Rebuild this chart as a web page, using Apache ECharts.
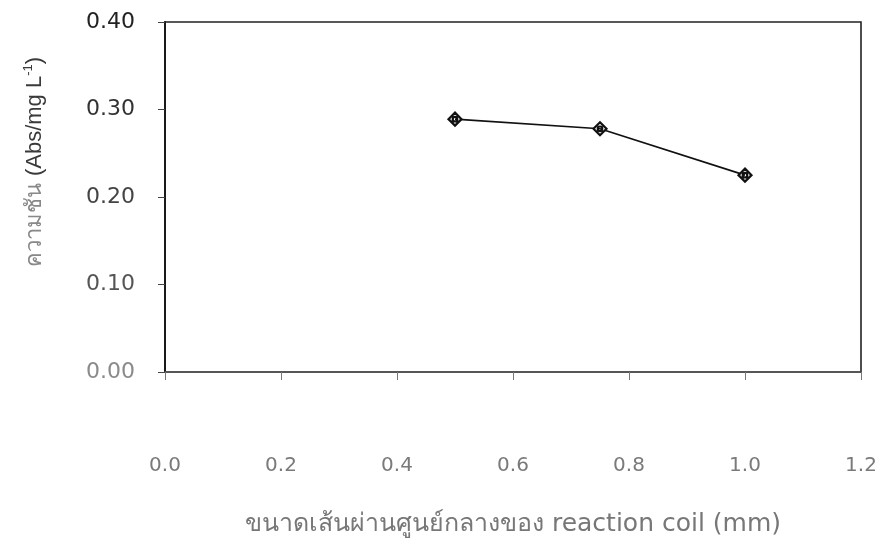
<!DOCTYPE html>
<html>
<head>
<meta charset="utf-8">
<script src="https://cdn.jsdelivr.net/npm/echarts@6/dist/echarts.min.js"></script>
<style>
  html, body { margin: 0; padding: 0; background: #fff; }
  #chart { width: 884px; height: 545px; }
</style>
</head>
<body>
<div id="chart"></div>
<script>
// Coil inner diameter (mm) and the measured calibration slope
const diameters = [0.5, 0.75, 1.0];
const slopes = [0.289, 0.278, 0.225];

const xTicks = [0.0, 0.2, 0.4, 0.6, 0.8, 1.0, 1.2];
const yTicks = [0.0, 0.1, 0.2, 0.3, 0.4];

const chart = echarts.init(document.getElementById('chart'));
const wideFont = '"DejaVu Sans", "Liberation Sans", sans-serif';
const narrowFont = '"Liberation Sans", Arial, sans-serif';

// tick label shades, darker toward the top of the axis
const yShade = { '0.00': '#8a8a8a', '0.10': '#555', '0.20': '#444', '0.30': '#333', '0.40': '#222' };

// diamond outline with a small ring in the middle
const markerPath = 'path://M0,-10 L10,0 L0,10 L-10,0 Z M0,-3.5 A3.5,3.5 0 1,0 0,3.5 A3.5,3.5 0 1,0 0,-3.5 Z';

chart.setOption({
  animation: false,
  backgroundColor: '#ffffff',
  grid: {
    left: 165, right: 23, top: 22, bottom: 173,
    outerBoundsMode: 'none',
    show: true, borderColor: '#222', borderWidth: 1.6, backgroundColor: 'transparent'
  },
  xAxis: {
    type: 'value',
    min: xTicks[0],
    max: xTicks[xTicks.length - 1],
    interval: 0.2,
    name: 'ขนาดเส้นผ่านศูนย์กลางของ reaction coil (mm)',
    nameLocation: 'middle',
    nameGap: 140,
    nameTextStyle: { fontFamily: wideFont, fontSize: 25, color: '#777' },
    axisLine: { show: true, lineStyle: { color: '#555', width: 1.5 } },
    axisTick: { show: true, inside: false, length: 8, lineStyle: { color: '#777', width: 1 } },
    splitLine: { show: false },
    axisLabel: {
      margin: 84,
      fontFamily: wideFont,
      fontSize: 20,
      color: '#7a7a7a',
      formatter: v => v.toFixed(1)
    }
  },
  yAxis: {
    type: 'value',
    min: yTicks[0],
    max: yTicks[yTicks.length - 1],
    interval: 0.1,
    axisLine: { show: true, lineStyle: { color: '#1a1a1a', width: 2 } },
    axisTick: { show: true, inside: false, length: 7, lineStyle: { color: '#444', width: 1 } },
    splitLine: { show: false },
    axisLabel: {
      margin: 30,
      fontFamily: wideFont,
      fontSize: 22,
      formatter: v => {
        const s = v.toFixed(2);
        return '{v' + s.replace('.', '') + '|' + s + '}';
      },
      rich: Object.fromEntries(yTicks.map(t => {
        const s = t.toFixed(2);
        return ['v' + s.replace('.', ''), { color: yShade[s], fontFamily: wideFont, fontSize: 22 }];
      }))
    }
  },
  graphic: [{
    type: 'text',
    x: 35,
    y: 162,
    rotation: Math.PI / 2,
    style: {
      text: '{th|ความชัน }{la|(Abs/mg L}{sup|-1}{la|)}',
      align: 'center',
      verticalAlign: 'middle',
      rich: {
        th: { fontFamily: wideFont, fontSize: 22, fill: '#888' },
        la: { fontFamily: narrowFont, fontSize: 22, fill: '#3a3a3a' },
        sup: { fontFamily: narrowFont, fontSize: 13, fill: '#3a3a3a', padding: [0, 0, 14, 0] }
      }
    }
  }],
  series: [{
    type: 'line',
    data: diameters.map((d, i) => [d, slopes[i]]),
    symbol: markerPath,
    symbolSize: 13,
    lineStyle: { color: '#111', width: 1.6 },
    itemStyle: { color: '#fff', borderColor: '#111', borderWidth: 2.2 }
  }]
});
</script>
</body>
</html>
